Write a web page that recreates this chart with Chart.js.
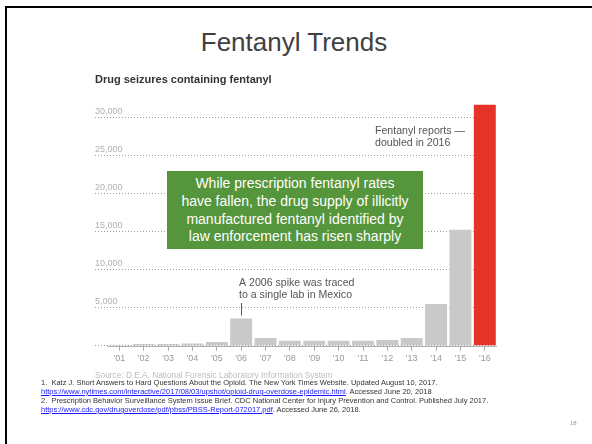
<!DOCTYPE html>
<html>
<head>
<meta charset="utf-8">
<script src="https://cdn.jsdelivr.net/npm/chart.js@4.4.1/dist/chart.umd.min.js"></script>
<style>
  html, body { margin: 0; padding: 0; }
  body { width: 592px; height: 444px; position: relative; overflow: hidden; background: #fff;
         font-family: "Liberation Sans", Arial, sans-serif; }
  #frame { position: absolute; left: 5px; top: 6px; width: 600px; height: 460px;
           border-top: 2px solid #000; border-left: 2px solid #000; }
  #title { position: absolute; left: 0; width: 588px; top: 27px; text-align: center;
           font-size: 26px; color: #404040; }
  #chart { position: absolute; left: 0; top: 0; filter: blur(0.2px); }
  #callout { position: absolute; left: 167px; top: 171px; width: 256px; height: 78px;
             background: #55963c; color: #fff; font-size: 14px; line-height: 17.8px;
             text-align: center; box-sizing: border-box; padding-top: 4px; }
  #notes { position: absolute; left: 41px; top: 378px; font-size: 7.5px; line-height: 9px;
           color: #333; white-space: nowrap; }
  #notes a { color: #1a1aff; text-decoration: underline; }
  #page { position: absolute; left: 570px; top: 420px; font-size: 6px; color: #999; }
</style>
</head>
<body>
<div id="frame"></div>
<div id="title">Fentanyl Trends</div>
<canvas id="chart" width="592" height="444"></canvas>
<div id="callout">While prescription fentanyl rates<br>have fallen, the drug supply of illicitly<br>manufactured fentanyl identified by<br>law enforcement has risen sharply</div>
<div id="notes">
  1.&nbsp; Katz J. Short Answers to Hard Questions About the Opioid. The New York Times Website. Updated August 10, 2017.<br>
  <a>https://www.nytimes.com/interactive/2017/08/03/upshot/opioid-drug-overdose-epidemic.html</a>. Accessed June 20, 2018<br>
  2.&nbsp; Prescription Behavior Surveillance System Issue Brief. CDC National Center for Injury Prevention and Control. Published July 2017.<br>
  <a>https://www.cdc.gov/drugoverdose/pdf/pbss/PBSS-Report-072017.pdf</a>. Accessed June 26, 2018.
</div>
<div id="page">18</div>
<script>
// Fentanyl reports in drug seizures, by year
const years = [2001, 2002, 2003, 2004, 2005, 2006, 2007, 2008, 2009, 2010, 2011, 2012, 2013, 2014, 2015, 2016];
const seizures = [130, 220, 220, 300, 480, 3580, 1000, 650, 650, 650, 650, 750, 1000, 5500, 15250, 31700];
const yearLabels = ["'01", "'02", "'03", "'04", "'05", "'06", "'07", "'08", "'09", "'10", "'11", "'12", "'13", "'14", "'15", "'16"];
const valueTicks = [0, 5000, 10000, 15000, 20000, 25000, 30000];

const chartFont = '"Liberation Sans", Arial, sans-serif';

// Chart heading, source line, solid baseline under the bars and the two notes
const notesPlugin = {
  id: 'notes',
  afterDatasetsDraw(chart) {
    const { ctx, scales } = chart;
    const x = scales.x, y = scales.y;
    const base = Math.round(y.getPixelForValue(0)) + 0.5;
    ctx.save();
    ctx.strokeStyle = '#b0b0b0';
    ctx.lineWidth = 1;
    ctx.beginPath();
    ctx.moveTo(x.getPixelForValue(years[0] - 0.5), base);
    ctx.lineTo(chart.chartArea.right, base);
    ctx.stroke();
    ctx.restore();
  },
  afterDraw(chart) {
    const { ctx, scales } = chart;
    const x = scales.x, y = scales.y;
    ctx.save();
    ctx.fillStyle = '#333';
    ctx.font = 'bold 11px ' + chartFont;
    ctx.textBaseline = 'middle';
    ctx.textAlign = 'left';
    ctx.fillText('Drug seizures containing fentanyl', 95, 80);

    ctx.fillStyle = '#555';
    ctx.font = '10.6px ' + chartFont;
    ctx.fillText('Fentanyl reports \u2014', 375, 131);
    ctx.fillText('doubled in 2016', 375, 143);

    const i06 = years.indexOf(2006);
    const px = x.getPixelForValue(2006);
    const top = y.getPixelForValue(seizures[i06]);
    ctx.fillText('A 2006 spike was traced', 239, 283);
    ctx.fillText('to a single lab in Mexico', 239, 295);
    ctx.strokeStyle = '#555';
    ctx.lineWidth = 1;
    ctx.beginPath();
    ctx.moveTo(Math.round(px) + 0.5, 303);
    ctx.lineTo(Math.round(px) + 0.5, top - 3);
    ctx.stroke();

    ctx.fillStyle = '#bdbdbd';
    ctx.font = '8.3px ' + chartFont;
    ctx.fillText('Source: D.E.A. National Forensic Laboratory Information System', 95, 376);
    ctx.restore();
  }
};

new Chart(document.getElementById('chart'), {
  type: 'bar',
  data: {
    datasets: [{
      data: years.map((yr, i) => ({ x: yr, y: seizures[i] })),
      backgroundColor: years.map(yr => yr === 2016 ? '#e5332a' : '#c9c9c9'),
      barPercentage: 0.9,
      categoryPercentage: 1
    }]
  },
  options: {
    responsive: false,
    devicePixelRatio: 1,
    animation: false,
    layout: { padding: { left: 95, right: 95, top: 102.5, bottom: 78.5 } },
    plugins: { legend: { display: false }, tooltip: { enabled: false }, title: { display: false } },
    scales: {
      x: {
        type: 'linear',
        offset: false,
        min: 2000,
        max: 2016.5,
        afterBuildTicks: s => { s.ticks = years.map(v => ({ value: v })); },
        ticks: {
          color: '#9a9a9a',
          font: { family: chartFont, size: 9 },
          padding: 2,
          maxRotation: 0,
          autoSkip: false,
          callback: v => yearLabels[years.indexOf(v)]
        },
        grid: { display: true, offset: false, drawOnChartArea: false, drawTicks: true, tickLength: 5, color: '#aaa' },
        border: { display: false }
      },
      y: {
        min: 0,
        max: 32000,
        afterBuildTicks: s => { s.ticks = valueTicks.map(v => ({ value: v })); },
        ticks: {
          mirror: true,
          padding: 0,
          labelOffset: -6,
          color: '#b0b0b0',
          font: { family: chartFont, size: 9 },
          callback: v => v === 0 ? '' : v.toLocaleString('en-US')
        },
        grid: { color: '#9c9c9c', lineWidth: 1, drawTicks: false },
        border: { display: false, dash: [1, 2] }
      }
    }
  },
  plugins: [notesPlugin]
});
</script>
</body>
</html>
